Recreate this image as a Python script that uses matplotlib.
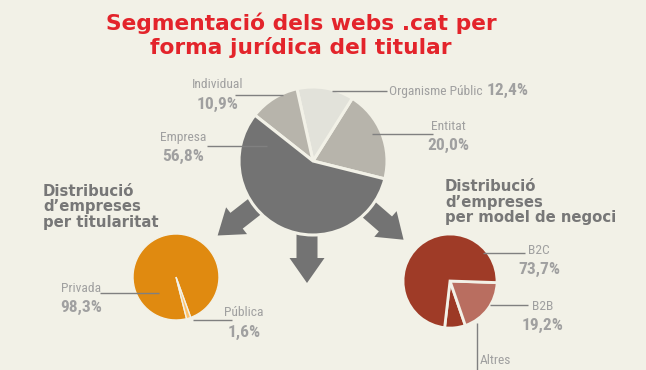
import matplotlib
matplotlib.use("Agg")
import matplotlib.pyplot as plt
from matplotlib.patches import FancyArrow
import numpy as np

# ---- data ----
main_labels = ["Entitat", "Organisme Públic", "Individual", "Empresa"]
main_values = [20.0, 12.4, 10.9, 56.8]
main_pct = ["20,0%", "12,4%", "10,9%", "56,8%"]

tit_labels = ["Privada", "Pública"]
tit_values = [98.3, 1.6]
tit_pct = ["98,3%", "1,6%"]

neg_labels = ["Altres", "B2B", "B2C"]
neg_values = [7.1, 19.2, 73.7]
neg_pct = ["7,1%", "19,2%", "73,7%"]

title = "Segmentació dels webs .cat per\nforma jurídica del titular"
sub_left = "Distribució\nd’empreses\nper titularitat"
sub_right = "Distribució\nd’empreses\nper model de negoci"

# ---- style ----
BG = "#f2f1e7"
GRAY_DARK = "#737373"
main_colors = ["#b7b4ab", "#e2e2da", "#b7b4ab", GRAY_DARK]
tit_colors = ["#e08a10", "#fec168"]
neg_colors = ["#9c3925", "#b96e60", "#9f3b27"]
LBL = "#a0a0a0"
LINE = "#808080"
NARROW = ["Liberation Sans Narrow", "Roboto Condensed", "Roboto", "DejaVu Sans"]
LBL_FS = 9.7
PCT_FS = 12.5

W, H = 646, 370
fig = plt.figure(figsize=(W / 100, H / 100), dpi=100)
fig.patch.set_facecolor(BG)
ax = fig.add_axes([0, 0, 1, 1])
ax.set_facecolor(BG)

def Y(py):
    return H - py

# main pie geometry
mc = (313, Y(161))
mr = 74

# arrows (decorative), drawn behind the main pie
def arrow(angle_deg, length, shaft=21, head_w=35, head_l=25, dx0=0):
    a = np.deg2rad(angle_deg)
    ax.add_patch(FancyArrow(mc[0] + dx0, mc[1], length * np.cos(a), length * np.sin(a),
                            width=shaft, head_width=head_w, head_length=head_l,
                            length_includes_head=True, color=GRAY_DARK, lw=0, zorder=1))

arrow(-90, 122, dx0=-6)
arrow(218, 121, shaft=20, head_w=34, head_l=24)
arrow(-41, 120, shaft=20, head_w=34, head_l=24)

ax.pie(main_values, colors=main_colors, startangle=-14, counterclock=True,
       center=mc, radius=mr, explode=[0.02, 0.02, 0.02, 0.0], frame=True,
       wedgeprops=dict(edgecolor=BG, linewidth=2.2, zorder=2))

tc = (176, Y(277))
ax.pie(tit_values, colors=tit_colors, startangle=-70, counterclock=True,
       center=tc, radius=43, explode=[0.0, 0.12], frame=True,
       wedgeprops=dict(edgecolor=BG, linewidth=1.0, zorder=2))

nc = (450, Y(281))
ax.pie(neg_values, colors=neg_colors, startangle=-96.6, counterclock=True,
       center=nc, radius=47, explode=[0.08, 0.12, 0.0], frame=True,
       wedgeprops=dict(edgecolor=BG, linewidth=2, zorder=2))

ax.set_xlim(0, W)
ax.set_ylim(0, H)
ax.set_aspect("auto")
ax.axis("off")

# ---- title & subtitles ----
ax.text(301, Y(35), title, ha="center", va="center", fontsize=15.7, fontweight="bold",
        color="#e3242b", family="DejaVu Sans", linespacing=1.15)
ax.text(43, Y(207), sub_left, ha="left", va="center", fontsize=10.7, fontweight="bold",
        color="#777777", family="DejaVu Sans", linespacing=1.07)
ax.text(445, Y(202), sub_right, ha="left", va="center", fontsize=10.7, fontweight="bold",
        color="#777777", family="DejaVu Sans", linespacing=1.07)

def lbl(x, y, name, pct, ha="center"):
    ax.text(x, Y(y), name, ha=ha, va="center", fontsize=LBL_FS, color=LBL, family=NARROW)
    if pct:
        ax.text(x, Y(y + 19), pct, ha=ha, va="center", fontsize=PCT_FS, fontweight="bold",
                color=LBL, family=NARROW)

def line(x0, y0, x1, y1):
    ax.plot([x0, x1], [Y(y0), Y(y1)], color=LINE, lw=1, zorder=5, solid_capstyle="butt")

# main pie labels
lbl(218, 85, main_labels[2], main_pct[2])
line(235, 95, 283, 95)
lbl(183, 137, main_labels[3], main_pct[3])
line(207, 146, 267, 146)
t_org = ax.text(389, Y(91), main_labels[1], ha="left", va="center", fontsize=LBL_FS,
                color=LBL, family=NARROW)
fig.canvas.draw()
bb = t_org.get_window_extent()
ax.text(bb.x1 + 4, Y(90), main_pct[1], ha="left", va="center", fontsize=PCT_FS,
        fontweight="bold", color=LBL, family=NARROW)
line(332, 91, 387, 91)
lbl(448, 126, main_labels[0], main_pct[0])
line(372, 134, 433, 134)

# titularitat labels
lbl(81, 288, tit_labels[0], tit_pct[0])
line(100, 293, 159, 293)
lbl(244, 313, tit_labels[1], tit_pct[1])
line(193, 320, 232, 320)

# negoci labels
lbl(539, 250, neg_labels[2], neg_pct[2])
line(483, 253, 525, 253)
lbl(543, 306, neg_labels[1], neg_pct[1])
line(490, 305, 528, 305)
ax.text(480, Y(361), neg_labels[0], ha="left", va="center", fontsize=LBL_FS, color=LBL,
        family=NARROW)
line(477, 323, 477, 372)

fig.savefig("out.png", dpi=100, facecolor=BG)
